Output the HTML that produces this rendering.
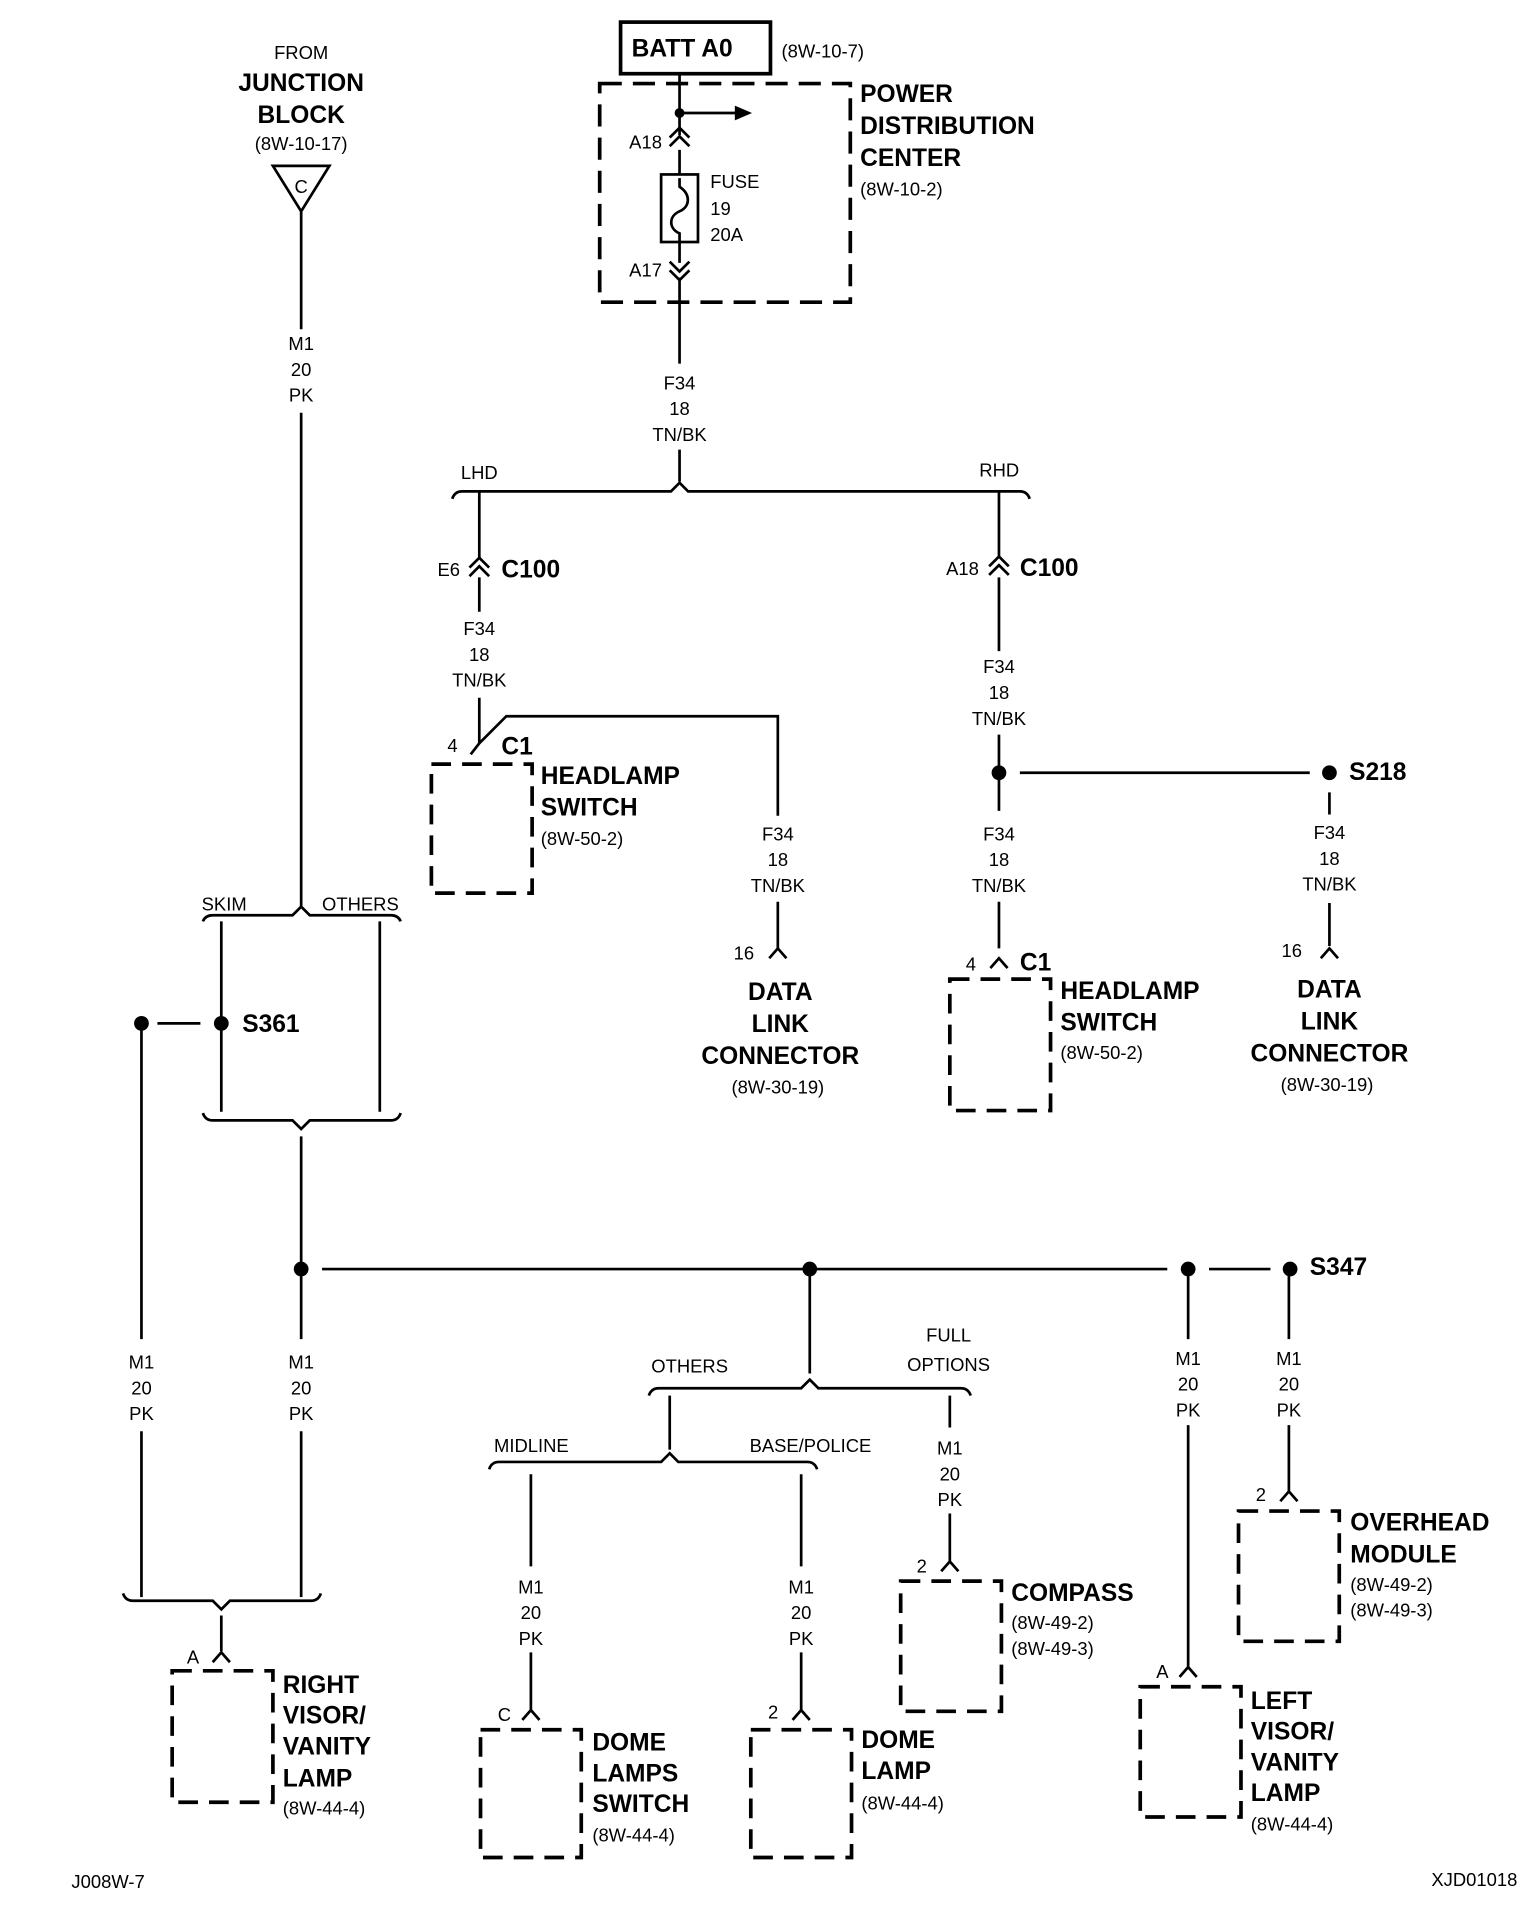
<!DOCTYPE html>
<html><head><meta charset="utf-8"><style>
html,body{margin:0;padding:0;background:#fff}
svg{display:block}
text{font-family:"Liberation Sans Narrow","Liberation Sans",sans-serif;fill:#000}
.s{font-size:15px}
.b{font-size:20px;font-weight:bold}
.c{text-anchor:middle}
</style></head><body>
<svg width="1536" height="1930" viewBox="0 0 1250 1571" xmlns="http://www.w3.org/2000/svg">
<g fill="none" stroke="#000" stroke-width="2.2">
<rect x="505" y="18" width="122" height="42" stroke-width="3"/>
<rect x="488" y="68" width="204" height="178" stroke-dasharray="18,9" stroke-width="3"/>
<path d="M553 60V110M553 122V142M553 197V214M553 226V296"/>
<path d="M553 92H600"/>
<path d="M545 112L553 104L561 112M545 119L553 111L561 119"/>
<path d="M545 213L553 221L561 213M545 220L553 228L561 220"/>
<rect x="538" y="142" width="30" height="55"/>
<path d="M553 145V152C562 158 562 168 553 172C544 176 544 186 553 190V197"/>
<path d="M553 366V392"/>
<path d="M368 406Q370 400 376 400H546L553 393L560 400H830Q836 400 838 406"/>
<path d="M390 400V455M390 470V498M390 568V605"/>
<path d="M382 462L390 454L398 462M382 469L390 461L398 469"/>
<path d="M383 614L390 605L412 583H633V664M633 734V772"/>
<path d="M626 780L633 772L640 780"/>
<rect x="351" y="622" width="82" height="105" stroke-dasharray="16,9" stroke-width="3"/>
<path d="M813 400V454M813 470V530M813 598V660M813 734V772"/>
<path d="M805 461L813 453L821 461M805 468L813 460L821 468"/>
<path d="M806 788L813 780L820 788"/>
<rect x="773" y="797" width="82" height="107" stroke-dasharray="16,9" stroke-width="3"/>
<path d="M830 629H1066M1082 645V663M1082 735V770"/>
<path d="M1075 780L1082 772L1089 780"/>
<path d="M222 135H268L245 172Z"/>
<path d="M245 172V268M245 336V738"/>
<path d="M165 750Q167 745 173 745H238L245 738L252 745H318Q324 745 326 750"/>
<path d="M180 750V905M309 750V905"/>
<path d="M128 833H163"/>
<path d="M165 906Q167 912 173 912H238L245 919L252 912H318Q324 912 326 906"/>
<path d="M245 925V1090M245 1165V1300M115 833V1090M115 1165V1300"/>
<path d="M100 1297Q102 1303 108 1303H173L180 1310L187 1303H253Q259 1303 261 1297"/>
<path d="M180 1315V1344M173 1353L180 1345L187 1353"/>
<rect x="140" y="1360" width="82" height="107" stroke-dasharray="16,9" stroke-width="3"/>
<path d="M262 1033H950M984 1033H1034"/>
<path d="M659 1033V1118"/>
<path d="M528 1136Q530 1130 536 1130H652L659 1123L666 1130H782Q788 1130 790 1136"/>
<path d="M545 1136V1180"/>
<path d="M398 1196Q400 1190 406 1190H538L545 1183L552 1190H657Q663 1190 665 1196"/>
<path d="M432 1200V1275M432 1345V1392M425 1400L432 1392L439 1400"/>
<rect x="391" y="1408" width="82" height="104" stroke-dasharray="16,9" stroke-width="3"/>
<path d="M652 1200V1275M652 1345V1392M645 1400L652 1392L659 1400"/>
<rect x="611" y="1408" width="82" height="104" stroke-dasharray="16,9" stroke-width="3"/>
<path d="M773 1136V1162M773 1232V1271M766 1279L773 1271L780 1279"/>
<rect x="733" y="1287" width="82" height="106" stroke-dasharray="16,9" stroke-width="3"/>
<path d="M967 1033V1090M967 1160V1357M960 1365L967 1357L974 1365"/>
<rect x="928" y="1373" width="82" height="106" stroke-dasharray="16,9" stroke-width="3"/>
<path d="M1049 1033V1090M1049 1160V1214M1042 1222L1049 1214L1056 1222"/>
<rect x="1008" y="1230" width="82" height="106" stroke-dasharray="16,9" stroke-width="3"/>
</g>
<g fill="#000">
<path d="M598 86L612 92L598 98Z"/>
<circle cx="553" cy="92" r="4"/>
<circle cx="813" cy="629" r="6"/><circle cx="1082" cy="629" r="6"/>
<circle cx="115" cy="833" r="6"/><circle cx="180" cy="833" r="6"/>
<circle cx="245" cy="1033" r="6"/><circle cx="659" cy="1033" r="6"/>
<circle cx="967" cy="1033" r="6"/><circle cx="1050" cy="1033" r="6"/>
</g>
<text class="b" x="514" y="46">BATT A0</text>
<text class="s" x="636" y="47">(8W-10-7)</text>
<text class="b" x="700" y="83">POWER</text>
<text class="b" x="700" y="109">DISTRIBUTION</text>
<text class="b" x="700" y="135">CENTER</text>
<text class="s" x="700" y="159">(8W-10-2)</text>
<text class="s" x="512" y="121">A18</text>
<text class="s" x="512" y="225">A17</text>
<text class="s" x="578" y="153">FUSE</text>
<text class="s" x="578" y="175">19</text>
<text class="s" x="578" y="196">20A</text>
<g class="s c"><text x="553" y="317">F34</text><text x="553" y="338">18</text><text x="553" y="359">TN/BK</text></g>
<text class="s" x="375" y="390">LHD</text>
<text class="s" x="797" y="388">RHD</text>
<text class="s" x="356" y="469">E6</text>
<text class="b" x="408" y="470">C100</text>
<text class="s" x="770" y="468">A18</text>
<text class="b" x="830" y="469">C100</text>
<g class="s c"><text x="390" y="517">F34</text><text x="390" y="538">18</text><text x="390" y="559">TN/BK</text></g>
<text class="s" x="364" y="612">4</text>
<text class="b" x="408" y="614">C1</text>
<text class="b" x="440" y="638">HEADLAMP</text>
<text class="b" x="440" y="664">SWITCH</text>
<text class="s" x="440" y="688">(8W-50-2)</text>
<g class="s c"><text x="633" y="684">F34</text><text x="633" y="705">18</text><text x="633" y="726">TN/BK</text></g>
<text class="s" x="597" y="781">16</text>
<g class="b c"><text x="635" y="814">DATA</text><text x="635" y="840">LINK</text><text x="635" y="866">CONNECTOR</text></g>
<text class="s c" x="633" y="890">(8W-30-19)</text>
<g class="s c"><text x="813" y="548">F34</text><text x="813" y="569">18</text><text x="813" y="590">TN/BK</text></g>
<g class="s c"><text x="813" y="684">F34</text><text x="813" y="705">18</text><text x="813" y="726">TN/BK</text></g>
<text class="b" x="1098" y="635">S218</text>
<g class="s c"><text x="1082" y="683">F34</text><text x="1082" y="704">18</text><text x="1082" y="725">TN/BK</text></g>
<text class="s" x="1043" y="779">16</text>
<g class="b c"><text x="1082" y="812">DATA</text><text x="1082" y="838">LINK</text><text x="1082" y="864">CONNECTOR</text></g>
<text class="s c" x="1080" y="888">(8W-30-19)</text>
<text class="s" x="786" y="790">4</text>
<text class="b" x="830" y="790">C1</text>
<text class="b" x="863" y="813">HEADLAMP</text>
<text class="b" x="863" y="839">SWITCH</text>
<text class="s" x="863" y="862">(8W-50-2)</text>
<text class="s c" x="245" y="48">FROM</text>
<g class="b c"><text x="245" y="74">JUNCTION</text><text x="245" y="100">BLOCK</text></g>
<text class="s c" x="245" y="122">(8W-10-17)</text>
<text class="s c" x="245" y="157">C</text>
<g class="s c"><text x="245" y="285">M1</text><text x="245" y="306">20</text><text x="245" y="327">PK</text></g>
<text class="s" x="164" y="741">SKIM</text>
<text class="s" x="262" y="741">OTHERS</text>
<text class="b" x="197" y="840">S361</text>
<text class="b" x="1066" y="1038">S347</text>
<g class="s c"><text x="115" y="1114">M1</text><text x="115" y="1135">20</text><text x="115" y="1156">PK</text></g>
<g class="s c"><text x="245" y="1114">M1</text><text x="245" y="1135">20</text><text x="245" y="1156">PK</text></g>
<text class="s" x="152" y="1354">A</text>
<g class="b"><text x="230" y="1378">RIGHT</text><text x="230" y="1403">VISOR/</text><text x="230" y="1428">VANITY</text><text x="230" y="1454">LAMP</text></g>
<text class="s" x="230" y="1477">(8W-44-4)</text>
<text class="s" x="530" y="1117">OTHERS</text>
<text class="s c" x="772" y="1092">FULL</text>
<text class="s c" x="772" y="1116">OPTIONS</text>
<text class="s" x="402" y="1182">MIDLINE</text>
<text class="s" x="610" y="1182">BASE/POLICE</text>
<g class="s c"><text x="432" y="1297">M1</text><text x="432" y="1318">20</text><text x="432" y="1339">PK</text></g>
<g class="s c"><text x="652" y="1297">M1</text><text x="652" y="1318">20</text><text x="652" y="1339">PK</text></g>
<g class="s c"><text x="773" y="1184">M1</text><text x="773" y="1205">20</text><text x="773" y="1226">PK</text></g>
<g class="s c"><text x="967" y="1111">M1</text><text x="967" y="1132">20</text><text x="967" y="1153">PK</text></g>
<g class="s c"><text x="1049" y="1111">M1</text><text x="1049" y="1132">20</text><text x="1049" y="1153">PK</text></g>
<text class="s" x="405" y="1401">C</text>
<g class="b"><text x="482" y="1425">DOME</text><text x="482" y="1450">LAMPS</text><text x="482" y="1475">SWITCH</text></g>
<text class="s" x="482" y="1499">(8W-44-4)</text>
<text class="s" x="625" y="1399">2</text>
<g class="b"><text x="701" y="1423">DOME</text><text x="701" y="1448">LAMP</text></g>
<text class="s" x="701" y="1473">(8W-44-4)</text>
<text class="s" x="746" y="1280">2</text>
<text class="b" x="823" y="1303">COMPASS</text>
<text class="s" x="823" y="1326">(8W-49-2)</text>
<text class="s" x="823" y="1347">(8W-49-3)</text>
<text class="s" x="941" y="1366">A</text>
<g class="b"><text x="1018" y="1391">LEFT</text><text x="1018" y="1416">VISOR/</text><text x="1018" y="1441">VANITY</text><text x="1018" y="1466">LAMP</text></g>
<text class="s" x="1018" y="1490">(8W-44-4)</text>
<text class="s" x="1022" y="1222">2</text>
<text class="b" x="1099" y="1246">OVERHEAD</text>
<text class="b" x="1099" y="1272">MODULE</text>
<text class="s" x="1099" y="1295">(8W-49-2)</text>
<text class="s" x="1099" y="1316">(8W-49-3)</text>
<text class="s" x="58" y="1537">J008W-7</text>
<text class="s" x="1165" y="1535">XJD01018</text>
</svg>
</body></html>
